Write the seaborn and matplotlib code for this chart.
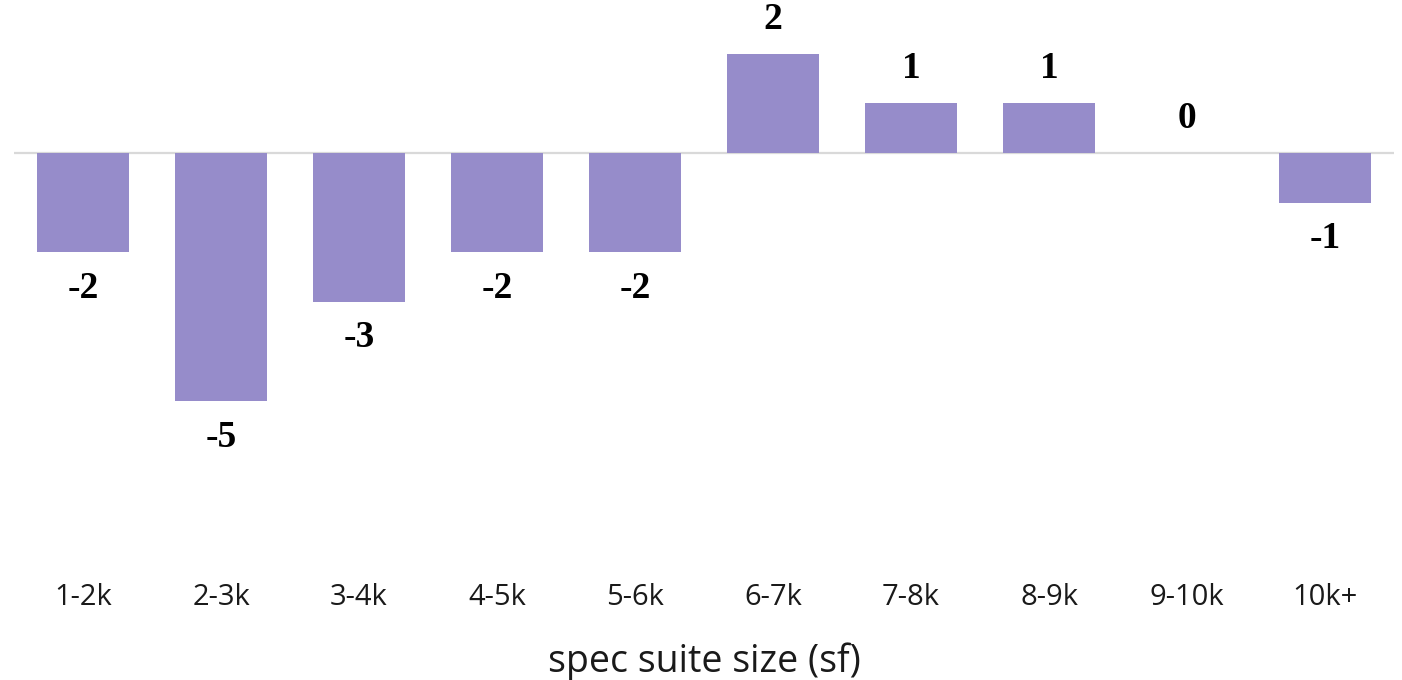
import matplotlib
matplotlib.use("Agg")
import matplotlib.pyplot as plt
import seaborn as sns
import pandas as pd

categories = ["1-2k", "2-3k", "3-4k", "4-5k", "5-6k", "6-7k", "7-8k", "8-9k", "9-10k", "10k+"]
values = [-2, -5, -3, -2, -2, 2, 1, 1, 0, -1]

sns.set_style("white")
plt.rcParams["font.family"] = ["Open Sans", "DejaVu Sans"]

df = pd.DataFrame({"size": categories, "delta": values})

DPI = 100
W, H = 1402, 680
fig = plt.figure(figsize=(W / DPI, H / DPI), dpi=DPI)
ax = fig.add_axes([14 / W, 1 - 565 / H, (1394 - 14) / W, 565 / H])

sns.barplot(data=df, x="size", y="delta", color="#968cca", width=0.667,
            saturation=1, linewidth=0, ax=ax, order=categories)

ax.set_xlim(-0.5, len(categories) - 0.5)
ax.set_ylim(-(565 - 153) / 49.6, 153 / 49.6)
ax.axhline(0, color="#d9d9d9", lw=1.6, zorder=0)

for i, v in enumerate(values):
    off = 25 if v >= 0 else -26
    ax.annotate(f"{v}", (i, v), xytext=(0, off), textcoords="offset points",
                ha="center", va="center", fontsize=27, fontweight="bold",
                family="Liberation Serif", color="#000000")

for s in ax.spines.values():
    s.set_visible(False)
ax.set_yticks([])
ax.tick_params(axis="x", length=0, pad=13, labelsize=21, labelcolor="#1a1a1a")
ax.set_ylabel("")
ax.set_xlabel("spec suite size (sf)", fontsize=27, color="#1a1a1a", labelpad=22)

fig.savefig("out.png", dpi=DPI)
